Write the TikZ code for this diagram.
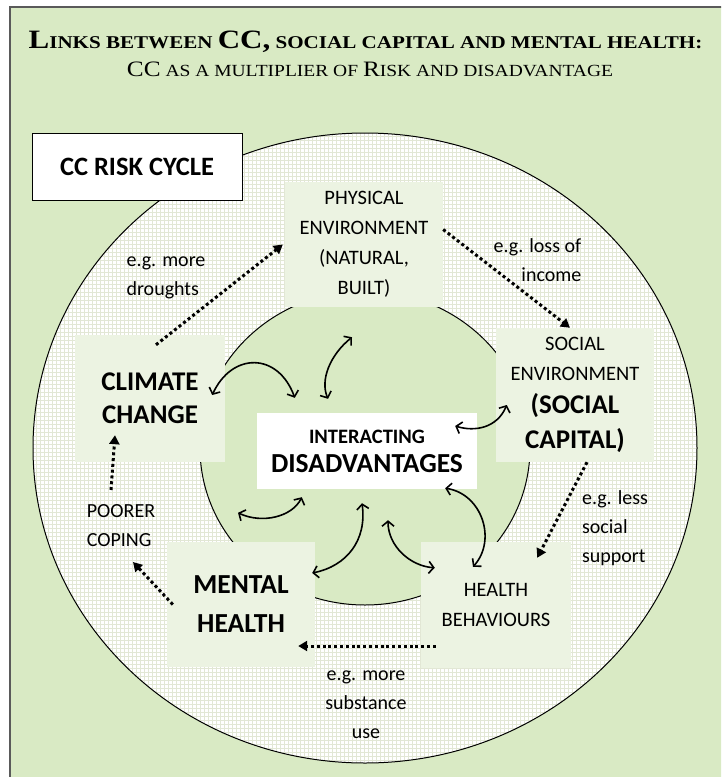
\documentclass[tikz,border=0pt]{standalone}
\usepackage{graphicx}
\usepackage{fontspec}
\setmainfont{Carlito}
\newfontfamily\titlefont{Liberation Serif}
\usetikzlibrary{arrows.meta}
\definecolor{bggreen}{RGB}{217,234,196}
\definecolor{boxgreen}{RGB}{236,243,226}
\definecolor{gridc}{RGB}{226,231,213}
\definecolor{framec}{RGB}{90,90,90}
\newcommand{\TBig}[1]{{\fontsize{26.5}{26}\selectfont #1}}
\newcommand{\TSm}[1]{{\fontsize{18}{18}\selectfont #1}}
\newcommand{\SBig}[1]{{\fontsize{22}{22}\selectfont #1}}
\newcommand{\SSm}[1]{{\fontsize{17}{17}\selectfont #1}}
\tikzset{
  gbox/.style={fill=boxgreen, inner sep=0pt, align=center},
  plain/.style={font=\fontsize{20.5}{30}\selectfont},
  boldbig/.style={font=\fontsize{27}{33}\selectfont\bfseries},
  lbl/.style={inner sep=0pt, font=\fontsize{20}{29}\selectfont},
  dots/.style={line width=3pt, dash pattern=on 3pt off 2.8pt, -{Triangle[length=9pt,width=10pt]}},
  twoway/.style={line width=1.6pt, {Straight Barb[length=5pt,width=12pt]}-{Straight Barb[length=5pt,width=12pt]}}
}
\begin{document}
\begin{tikzpicture}[x=1pt,y=-1pt]
\useasboundingbox (0,0) rectangle (721,777);
\clip (0,0) rectangle (721,777);
\fill[white] (0,0) rectangle (721,777);
\filldraw[fill=bggreen, draw=framec, line width=2pt] (10,7) rectangle (740,800);
% title
\node[inner sep=0pt, anchor=base] (title1) at (365.5,48) {\scalebox{1.17}[1]{\titlefont\bfseries\TBig{L}\TSm{INKS BETWEEN }\TBig{CC,}\TSm{ SOCIAL CAPITAL AND MENTAL HEALTH:}}};
\node[inner sep=0pt, anchor=base] (title2) at (370,76) {\scalebox{1.147}[1]{\titlefont\SBig{CC}\SSm{ AS A MULTIPLIER OF }\SBig{R}\SSm{ISK AND DISADVANTAGE}}};
% outer ring
\fill[white] (365,448) ellipse [x radius=332, y radius=315];
\begin{scope}
\clip (365,448) ellipse [x radius=332, y radius=315];
\draw[gridc, line width=0.9pt] (30,130) grid[step=4pt] (700,770);
\end{scope}
\draw[black, line width=1pt] (365,448) ellipse [x radius=332, y radius=315];
\filldraw[fill=bggreen, draw=black, line width=1pt] (365,448) ellipse [x radius=165, y radius=157];
% risk cycle label
\node[draw=black, line width=1pt, fill=white, minimum width=210pt, minimum height=67pt, inner sep=0pt, font=\fontsize{26.5}{26}\selectfont\bfseries] (cycle) at (137,166.5) {CC RISK CYCLE};
% boxes
\node[gbox, plain, minimum width=158pt, minimum height=125pt] (phys) at (364,244.5) {PHYSICAL\\ENVIRONMENT\\(NATURAL,\\BUILT)};
\node[gbox, plain, minimum width=158pt, minimum height=134pt] (social) at (575,395) {SOCIAL\\ENVIRONMENT\\[3pt]{\fontsize{27}{33}\selectfont\bfseries (SOCIAL}\\[5pt]{\fontsize{27}{33}\selectfont\bfseries CAPITAL)}};
\node[gbox, boldbig, minimum width=150pt, minimum height=127pt] (cc) at (150,398.5) {CLIMATE\\CHANGE};
\node[fill=white, inner sep=0pt, align=center, minimum width=220pt, minimum height=76pt, font=\fontsize{20.5}{29}\selectfont\bfseries] (ia) at (367,451) {INTERACTING\\{\fontsize{27.5}{29}\selectfont DISADVANTAGES}};
\node[gbox, font=\fontsize{27.5}{39}\selectfont\bfseries, minimum width=148pt, minimum height=125pt] (mental) at (241,604.5) {MENTAL\\HEALTH};
\node[gbox, plain, minimum width=150pt, minimum height=126pt] (hb) at (496,605) {HEALTH\\BEHAVIOURS};
% free labels
\node[lbl, align=left] (drought) at (166,277.5) {e.g. more\\droughts};
\node[lbl, align=right] (income) at (537.5,260.5) {e.g. loss of\\income};
\node[lbl, align=left] (support) at (615,528) {e.g. less\\social\\support};
\node[lbl, align=center] (substance) at (366,705) {e.g. more\\substance\\use};
\node[lbl, align=left] (coping) at (121,525.5) {POORER\\COPING};
% dotted arrows
\draw[dots] ([xshift=6pt,yshift=-10pt]cc.north) -- ([xshift=-2pt]phys.west);
\draw[dots] ([yshift=15pt]phys.east) -- ([xshift=-5pt]social.north);
\draw[dots] ([xshift=12pt]social.south) -- ([xshift=-34pt,yshift=-16pt]hb.north east);
\draw[dots] ([xshift=15pt,yshift=-41pt]hb.west) -- ([xshift=-17pt,yshift=-41.5pt]mental.east);
\draw[dots] ([xshift=6pt]mental.west) -- ([xshift=12pt,yshift=-36.5pt]coping.center);
\draw[dots] ([xshift=-10pt,yshift=35.5pt]coping.center) -- ([xshift=-35pt,yshift=27pt]cc.south);
% two-way curved arrows
\draw[twoway] ([xshift=-13pt,yshift=3.5pt]cc.east) .. controls (232,352) and (278,352) .. ([xshift=38pt,yshift=15pt]ia.north west);
\draw[twoway] ([xshift=-12pt,yshift=-30pt]phys.south) .. controls (330,355) and (320,380) .. ([xshift=-39pt,yshift=14pt]ia.north);
\draw[twoway] ([xshift=11pt,yshift=-10pt]social.west) .. controls (497,428) and (475,432) .. ([xshift=-22pt,yshift=25pt]ia.east);
\draw[twoway] ([xshift=-3pt,yshift=29pt]mental.north) .. controls (262,524) and (292,517) .. ([xshift=45pt,yshift=-8pt]ia.south west);
\draw[twoway] ([xshift=-5pt,yshift=-14pt]ia.south) .. controls (367,540) and (347,566) .. ([xshift=-3pt,yshift=31.5pt]mental.east);
\draw[twoway] ([xshift=21pt,yshift=-31pt]ia.south) .. controls (388,546) and (410,566) .. ([xshift=14pt,yshift=-26pt]hb.north west);
\draw[twoway] ([xshift=-32pt,yshift=1pt]ia.south east) .. controls (482,494) and (497,540) .. ([xshift=-23pt,yshift=-25pt]hb.north);
\end{tikzpicture}
\end{document}
